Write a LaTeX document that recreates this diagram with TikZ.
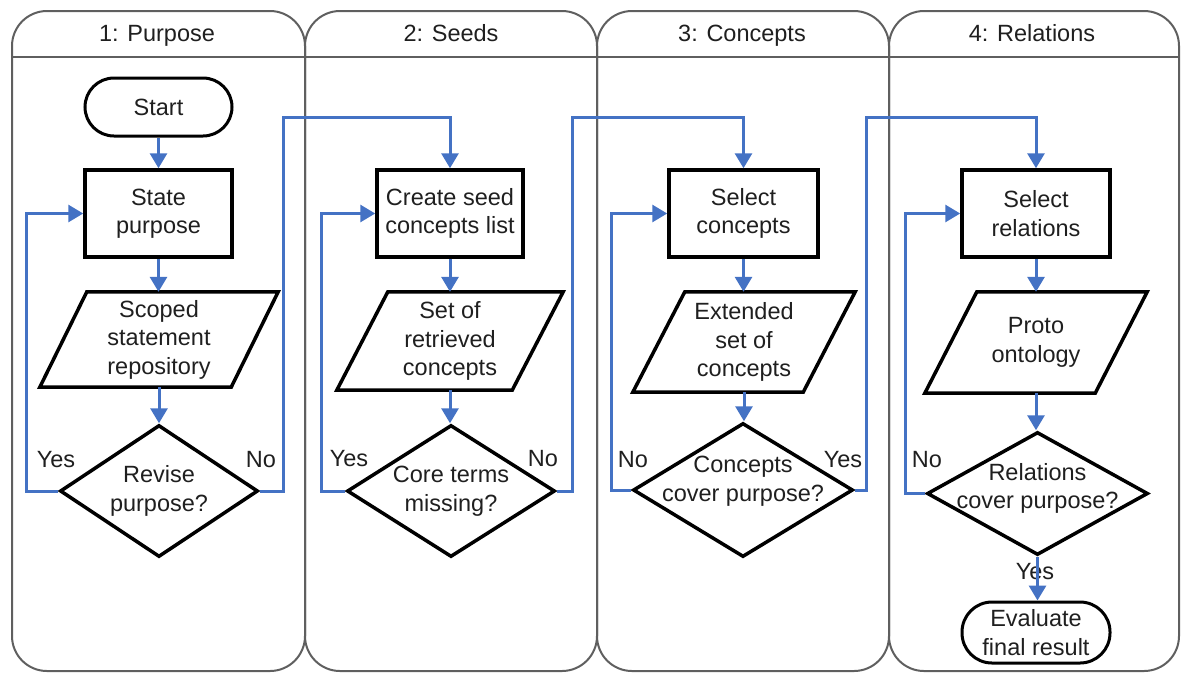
\documentclass[tikz,border=0pt]{standalone}
\usepackage{fontspec}
\setmainfont{Liberation Sans}
\usetikzlibrary{arrows.meta,shapes.geometric,calc}
\definecolor{flowblue}{RGB}{68,114,196}
\definecolor{lanegray}{RGB}{95,95,95}
\newcommand\drawpara[2]{\draw[parashape] ([xshift=#2]#1.north west) -- ([xshift=#2]#1.north east) -- ([xshift=-#2]#1.south east) -- ([xshift=-#2]#1.south west) -- cycle;}
\begin{document}
\begin{tikzpicture}[x=1pt,y=-1pt,
  every node/.style={font=\fontsize{23.5}{28.5}\selectfont, text=black!88},
  lane/.style={draw=lanegray, line width=2pt, rounded corners=35pt},
  procbox/.style={draw=black, line width=3.5pt, minimum width=147pt, minimum height=87pt, inner sep=0pt, align=center},
  termbox/.style={draw=black, line width=3pt, rounded corners=29pt, minimum width=147pt, minimum height=58pt, inner sep=0pt, align=center},
  paratxt/.style={inner sep=0pt, align=center},
  parashape/.style={draw=black, line width=3.5pt},
  decide/.style={diamond, draw=black, line width=3.5pt, inner sep=0pt},
  txt/.style={inner sep=0pt, align=center},
  flow/.style={draw=flowblue, line width=3pt, -{Triangle[width=17pt,length=15pt]}},
]
\useasboundingbox (0,0) rectangle (1182,673);
% lanes
\draw[lane] (12,11) rectangle (305,671);
\draw[lane] (305,11) rectangle (597,671);
\draw[lane] (597,11) rectangle (889,671);
\draw[lane] (889,11) rectangle (1179,671);
\draw[draw=lanegray, line width=2.2pt] (12,57) -- (1179,57);
\node[anchor=base] (h1) at (157,41) {1: Purpose};
\node[anchor=base] (h2) at (451,41) {2: Seeds};
\node[anchor=base] (h3) at (742,41) {3: Concepts};
\node[anchor=base] (h4) at (1032,41) {4: Relations};
% lane 1
\node[termbox] (start) at (158.5,107) {Start};
\node[procbox] (sp) at (158.5,213.5) {State\\purpose};
\node[paratxt, minimum width=191pt, minimum height=95pt] (p1) at (159,339.5) {Scoped\\statement\\repository};
\drawpara{p1}{23.5pt}
\node[decide, minimum width=198pt, minimum height=132pt] (d1) at (159,491) {};
\node[txt] (t1) at (d1.center) {Revise\\purpose?};
% lane 2
\node[procbox, minimum width=146pt] (cs) at (450,213.5) {Create seed\\concepts list};
\node[paratxt, minimum width=175pt, minimum height=98pt] (p2) at (450,341) {Set of\\retrieved\\concepts};
\drawpara{p2}{25.5pt}
\node[decide, minimum width=208pt, minimum height=132pt] (d2) at (451,491) {};
\node[txt] (t2) at (d2.center) {Core terms\\missing?};
% lane 3
\node[procbox, minimum width=149pt] (sc) at (743.5,213.5) {Select\\concepts};
\node[paratxt, minimum width=170pt, minimum height=100pt] (p3) at (744,342) {Extended\\set of\\concepts};
\drawpara{p3}{26pt}
\node[decide, minimum width=220pt, minimum height=134pt] (d3) at (743,490) {};
\node[txt] (t3) at ([yshift=9pt]d3.center) {Concepts\\cover purpose?};
% lane 4
\node[procbox, minimum width=148pt] (sr) at (1036,213.5) {Select\\relations};
\node[paratxt, minimum width=170pt, minimum height=101pt] (p4) at (1036,342.5) {Proto\\ontology};
\drawpara{p4}{26pt}
\node[decide, minimum width=221pt, minimum height=123pt] (d4) at (1037.5,493.5) {};
\node[txt] (t4) at ([yshift=5pt]d4.center) {Relations\\cover purpose?};
\node[termbox, minimum height=61pt, minimum width=148pt, rounded corners=30pt] (ev) at (1036,632.5) {Evaluate\\final result};
% labels
\node[txt] (y1) at (56,460) {Yes};
\node[txt] (n1) at (261,460) {No};
\node[txt] (y2) at (349,459) {Yes};
\node[txt] (n2) at (543,459) {No};
\node[txt] (n3) at (633,460) {No};
\node[txt] (y3) at (843,460) {Yes};
\node[txt] (n4) at (927,460) {No};
\node[txt] (y4) at (1035,572) {Yes};
% bend points
\coordinate (b1) at (283,117);
\coordinate (b2) at (572,117);
\coordinate (b3) at (866,117);
% connectors lane 1
\draw[flow] (start.south) -- (sp.north);
\draw[flow] (sp.south) -- (sp.south |- p1.north);
\draw[flow] (p1.south) -- (p1.south |- d1.north);
\draw[flow] (d1.west) -- ++(-32,0) |- (sp.west);
\draw[flow] (d1.east) -| (b1) -| (cs.north);
% lane 2
\draw[flow] (cs.south) -- (cs.south |- p2.north);
\draw[flow] (p2.south) -- (p2.south |- d2.north);
\draw[flow] (d2.west) -- ++(-24,0) |- (cs.west);
\draw[flow] (d2.east) -| (b2) -| (sc.north);
% lane 3
\draw[flow] (sc.south) -- (sc.south |- p3.north);
\draw[flow] (p3.south) -- (p3.south |- d3.north);
\draw[flow] (d3.west) -- ++(-20,0) |- (sc.west);
\draw[flow] (d3.east) -| (b3) -| (sr.north);
% lane 4
\draw[flow] (sr.south) -- (sr.south |- p4.north);
\draw[flow] (p4.south) -- (p4.south |- d4.north);
\draw[flow] (d4.west) -- ++(-20,0) |- (sr.west);
\draw[flow] (d4.south) -- (d4.south |- ev.north);
\end{tikzpicture}
\end{document}
